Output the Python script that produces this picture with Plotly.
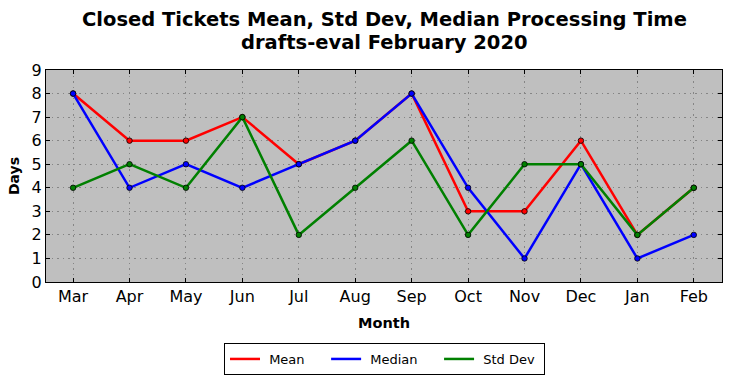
import plotly.graph_objects as go

months = ["Mar", "Apr", "May", "Jun", "Jul", "Aug", "Sep", "Oct", "Nov", "Dec", "Jan", "Feb"]
mean_days = [8, 6, 6, 7, 5, 6, 8, 3, 3, 6, 2, 4]
median_days = [8, 4, 5, 4, 5, 6, 8, 4, 1, 5, 1, 2]
std_days = [4, 5, 4, 7, 2, 4, 6, 2, 5, 5, 2, 4]
y_ticks = list(range(0, 10))
title_lines = ["Closed Tickets Mean, Std Dev, Median Processing Time", "drafts-eval February 2020"]

series = [("Mean", mean_days, "#ff0000"), ("Median", median_days, "#0000ff"), ("Std Dev", std_days, "#008000")]

fig = go.Figure()
for name, vals, col in series:
    fig.add_trace(go.Scatter(
        x=list(range(len(months))), y=vals, name=name, mode="lines+markers",
        line=dict(color=col, width=2.5), showlegend=False,
        marker=dict(color=col, size=5.5, line=dict(color="black", width=0.8)),
    ))
pad = "\u00a0" * 4
for i, (name, vals, col) in enumerate(series):
    fig.add_trace(go.Scatter(
        x=[None], y=[None], mode="lines", line=dict(color=col, width=2.5),
        name="\u00a0" + name + (pad if i < len(series) - 1 else "\u00a0"), showlegend=True,
    ))

W, H = 732, 378
font = "DejaVu Sans"
fig.update_layout(
    width=W, height=H,
    margin=dict(l=46, r=10, t=70, b=96, autoexpand=False),
    paper_bgcolor="white", plot_bgcolor="#bfbfbf",
    font=dict(family=font, color="black"),
    showlegend=True,
    legend=dict(orientation="h", xref="container", yref="container",
                x=0.5253, xanchor="center", y=1 - 343 / H, yanchor="top",
                bordercolor="black", borderwidth=1, font=dict(size=13), bgcolor="white",
                itemwidth=30),
)
for line_text, ypx in zip(title_lines, [20, 42]):
    fig.add_annotation(
        text="<b>" + line_text + "</b>", xref="paper", yref="paper",
        x=(385 - 46) / 676, y=(282 - ypx) / 212, xanchor="center", yanchor="middle",
        showarrow=False, font=dict(size=19.5, family=font, color="black"),
    )
grid = dict(showgrid=True, gridcolor="#858585", griddash="1.5px,4px", gridwidth=1, zeroline=False)
fig.update_xaxes(
    range=[-0.48, 11.5], tickmode="array", tickvals=list(range(len(months))), ticktext=months,
    tickfont=dict(size=16), showline=True, linecolor="black", linewidth=1, mirror="ticks",
    ticks="inside", ticklen=4, tickcolor="black", automargin=False,
    title=dict(text="<b>Month</b>", font=dict(size=14.5), standoff=12), **grid,
)
fig.update_yaxes(
    range=[0, 9], tickvals=y_ticks, tickfont=dict(size=16),
    showline=True, linecolor="black", linewidth=1, mirror="ticks",
    ticks="inside", ticklen=4, tickcolor="black", automargin=False,
    title=dict(text="<b>Days</b>", font=dict(size=14), standoff=8), **grid,
)
fig.write_html("out.html", config={"displayModeBar": False},
               post_script="document.body.style.margin='0px';")
